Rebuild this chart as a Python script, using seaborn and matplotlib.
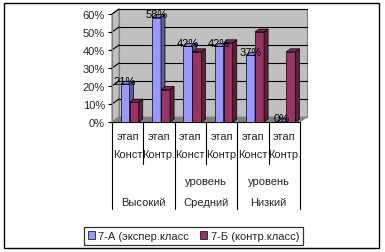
import numpy as np
import pandas as pd
import matplotlib
matplotlib.use("Agg")
import matplotlib.pyplot as plt
import matplotlib.transforms as mtransforms
from matplotlib.patches import Polygon, Rectangle, Patch
from matplotlib.lines import Line2D
import seaborn as sns

# ---- data ----
categories = ["В-Конст", "В-Контр", "С-Конст", "С-Контр", "Н-Конст", "Н-Контр"]
row1_labels = ["этап", "этап", "этап", "этап", "этап", "этап"]
row2_labels = ["Конст", "Контр.", "Конст", "Контр", "Конст", "Контр."]
row3_labels = ["", "уровень", "уровень"]
row4_labels = ["Высокий", "Средний", "Низкий"]
series_names = ["7-А (экспер.класс", "7-Б (контр.класс)"]
values_a = [21, 58, 42, 42, 37, 0]
values_b = [11, 18, 39, 44, 50, 39]
yticks = [0, 10, 20, 30, 40, 50, 60]

colors = ["#9999FF", "#993366"]
side_colors = ["#5C5C99", "#5C1F3D"]
top_colors = ["#7A7ACC", "#7A2952"]

df = pd.DataFrame({
    "cat": categories * 2,
    "series": [series_names[0]] * len(categories) + [series_names[1]] * len(categories),
    "value": values_a + values_b,
})

sns.set_style("white")
plt.rcParams["font.family"] = ["Liberation Sans", "DejaVu Sans"]

FS = 8
W, H = 385, 253
fig = plt.figure(figsize=(W / 100, H / 100), dpi=100)
fig.patch.set_facecolor("white")

ax_l, ax_r, ax_y0, ax_y60 = 112, 300, 123, 15
ax = fig.add_axes([ax_l / W, 1 - ax_y0 / H, (ax_r - ax_l) / W, (ax_y0 - ax_y60) / H])
ax.set_facecolor("none")

sns.barplot(data=df, x="cat", y="value", hue="series", order=categories,
            hue_order=series_names, palette=colors, width=0.58, saturation=1,
            edgecolor="black", linewidth=0.5, legend=False, ax=ax, zorder=5)

ax.set_xlim(-0.5, 5.5)
ax.set_ylim(0, 60)

px_x = (ax_r - ax_l) / 6.0
px_y = (ax_y0 - ax_y60) / 60.0
wdx, wdy = 7 / px_x, 5 / px_y       # wall depth
bdx, bdy = 4 / px_x, 3 / px_y       # bar depth
shift = 2 / px_x

# walls and floor
back = Polygon([(-0.5 + wdx, wdy), (5.5 + wdx, wdy), (5.5 + wdx, 60 + wdy), (-0.5 + wdx, 60 + wdy)],
               closed=True, facecolor="#C0C0C0", edgecolor="#808080", lw=0.8, zorder=0.5, clip_on=False)
side = Polygon([(-0.5, 0), (-0.5 + wdx, wdy), (-0.5 + wdx, 60 + wdy), (-0.5, 60)],
               closed=True, facecolor="#C0C0C0", edgecolor="#808080", lw=0.8, zorder=0.5, clip_on=False)
floor = Polygon([(-0.5, 0), (5.5, 0), (5.5 + wdx, wdy), (-0.5 + wdx, wdy)],
                closed=True, facecolor="#808080", edgecolor="#808080", lw=0.5, zorder=0.8, clip_on=False)
ax.add_patch(back)
ax.add_patch(side)
for y in yticks[1:]:
    ax.add_line(Line2D([-0.5 + wdx, 5.5 + wdx], [y + wdy, y + wdy], color="black", lw=0.8,
                       zorder=0.7, clip_on=False))
    ax.add_line(Line2D([-0.5, -0.5 + wdx], [y, y + wdy], color="black", lw=0.8,
                       zorder=0.7, clip_on=False))
ax.add_patch(floor)

# bars: shift and add 3D faces
n = len(categories)
for k, p in enumerate(ax.patches[:2 * n]):
    s = k // n
    i = k % n
    p.set_x(p.get_x() + shift)
    z = 3 + 2 * i + s
    p.set_zorder(z)
    x0 = p.get_x()
    x1 = x0 + p.get_width()
    h = p.get_height()
    ax.add_patch(Polygon([(x1, 0), (x1 + bdx, bdy), (x1 + bdx, h + bdy), (x1, h)], closed=True,
                         facecolor=side_colors[s], edgecolor="black", lw=0.5, zorder=z, clip_on=False))
    ax.add_patch(Polygon([(x0, h), (x0 + bdx, h + bdy), (x1 + bdx, h + bdy), (x1, h)], closed=True,
                         facecolor=top_colors[s], edgecolor="black", lw=0.5, zorder=z, clip_on=False))
    p.set_clip_on(False)

# data labels (series A)
for i, v in enumerate(values_a):
    p = ax.patches[i]
    cx = p.get_x() + p.get_width() / 2
    ax.text(cx, v + 0.3, f"{v}%", ha="center", va="baseline", fontsize=FS,
            color="black", zorder=30, clip_on=False)

# axes styling
ax.set_yticks(yticks)
ax.set_yticklabels([f"{t}%" for t in yticks], fontsize=FS)
ax.set_xticks([])
ax.set_xlabel("")
ax.set_ylabel("")
ax.tick_params(axis="y", length=3, width=0.8, pad=2, left=True, color="black")
for sname in ["top", "right"]:
    ax.spines[sname].set_visible(False)
ax.spines["left"].set_color("#808080")
ax.spines["left"].set_linewidth(0.8)
ax.spines["bottom"].set_color("black")
ax.spines["bottom"].set_linewidth(0.8)
ax.spines["left"].set_zorder(1)

# multi-level category labels
tr = mtransforms.blended_transform_factory(ax.transData, ax.transAxes)
def yf(py):
    return (ax_y0 - py) / (ax_y0 - ax_y60)

for i in range(n):
    ax.text(i, yf(137), row1_labels[i], transform=tr, ha="center", va="center", fontsize=FS)
    ax.text(i, yf(155), row2_labels[i], transform=tr, ha="center", va="center", fontsize=FS)
for g in range(3):
    if row3_labels[g]:
        ax.text(2 * g + 0.5, yf(182), row3_labels[g], transform=tr, ha="center", va="center", fontsize=FS)
    ax.text(2 * g + 0.5, yf(203), row4_labels[g], transform=tr, ha="center", va="center", fontsize=FS)

for xb in [0.5, 2.5, 4.5]:
    ax.add_line(Line2D([xb, xb], [0, yf(165)], transform=tr, color="black", lw=0.8, clip_on=False))
for xb in [-0.5, 1.5, 3.5, 5.5]:
    ax.add_line(Line2D([xb, xb], [0, yf(210)], transform=tr, color="black", lw=0.8, clip_on=False))

# legend
handles = [Patch(facecolor=colors[0], edgecolor="black", lw=0.5),
           Patch(facecolor=colors[1], edgecolor="black", lw=0.5)]
leg = fig.legend(handles, series_names, loc="center", ncol=2,
                 bbox_to_anchor=(193.5 / W, 1 - 237 / H), fontsize=FS, frameon=True,
                 fancybox=False, edgecolor="black", handlelength=0.65, handleheight=0.65,
                 handletextpad=0.3, columnspacing=1.0, borderpad=0.35, borderaxespad=0)
leg.get_frame().set_linewidth(0.9)

# outer border
fig.add_artist(Rectangle((4 / W, (H - 249) / H), 375 / W, 245 / H, transform=fig.transFigure,
                         fill=False, edgecolor="black", lw=1.0))

fig.savefig("out.png", dpi=100)
